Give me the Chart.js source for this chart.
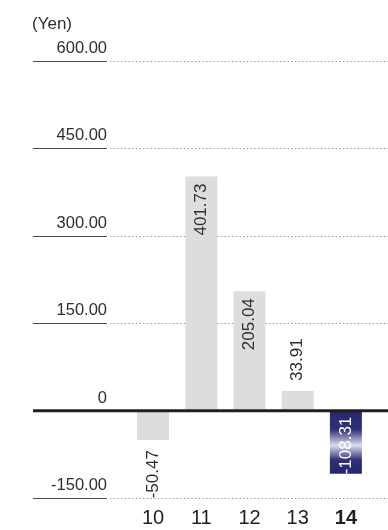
<!DOCTYPE html>
<html><head><meta charset="utf-8">
<script src="https://cdn.jsdelivr.net/npm/chart.js@4.4.1/dist/chart.umd.min.js"></script>
<style>html,body{margin:0;padding:0;background:#fff;overflow:hidden}canvas{display:block}</style>
</head><body><canvas id="c" width="388" height="530" style="width:388px;height:530px"></canvas>
<script>
const categories = ['10', '11', '12', '13', '14'];
const values = [-50.47, 401.73, 205.04, 33.91, -108.31];
const yTicks = [-150, 0, 150, 300, 450, 600];
const unitLabel = '(Yen)';
const highlightIndex = 4;

const FONT = '"Liberation Sans", Arial, Helvetica, sans-serif';

function barColor(ctx) {
  const chart = ctx.chart;
  if (ctx.dataIndex !== highlightIndex) return '#dcdddd';
  const ys = chart.scales.y;
  if (!ys || !chart.chartArea) return '#2a2a70';
  const y0 = ys.getPixelForValue(0), y1 = ys.getPixelForValue(values[ctx.dataIndex]);
  const g = chart.ctx.createLinearGradient(0, y0, 0, y1);
  g.addColorStop(0, '#28286c');
  g.addColorStop(0.3, '#303078');
  g.addColorStop(0.55, '#dcdcec');
  g.addColorStop(0.78, '#303078');
  g.addColorStop(1, '#26266a');
  return g;
}

const decor = {
  id: 'decor',
  beforeDatasetsDraw(chart) {
    const ctx = chart.ctx, ys = chart.scales.y;
    ctx.save();
    for (const v of yTicks) {
      if (v === 0) continue;
      const py = Math.round(ys.getPixelForValue(v)) + 0.5;
      ctx.setLineDash([]);
      ctx.strokeStyle = '#4a4a4a';
      ctx.lineWidth = 1;
      ctx.beginPath(); ctx.moveTo(33, py); ctx.lineTo(107, py); ctx.stroke();
      ctx.setLineDash([1.2, 2.5]);
      ctx.strokeStyle = '#8a8a8a';
      ctx.beginPath(); ctx.moveTo(110, py); ctx.lineTo(chart.width, py); ctx.stroke();
    }
    ctx.restore();
  },
  afterDatasetsDraw(chart) {
    const ctx = chart.ctx, ys = chart.scales.y;
    ctx.save();
    const pz = ys.getPixelForValue(0);
    ctx.strokeStyle = '#231f20';
    ctx.lineWidth = 3;
    ctx.beginPath(); ctx.moveTo(33, pz); ctx.lineTo(chart.width, pz); ctx.stroke();

    const meta = chart.getDatasetMeta(0);
    ctx.font = '17px ' + FONT;
    ctx.textBaseline = 'middle';
    meta.data.forEach((el, i) => {
      const v = values[i];
      const top = Math.min(el.y, el.base), bottom = Math.max(el.y, el.base);
      const len = bottom - top;
      let anchor, align;
      if (len > 60) {
        anchor = top + (v >= 0 ? 7 : 6); align = 'right';
      } else if (v >= 0) {
        anchor = top - 10; align = 'left';
      } else {
        anchor = bottom + 10; align = 'right';
      }
      ctx.save();
      ctx.translate(el.x, anchor);
      ctx.rotate(-Math.PI / 2);
      ctx.textAlign = align;
      ctx.fillStyle = i === highlightIndex ? '#ffffff' : '#2e2e2e';
      ctx.fillText(v.toFixed(2), 0, 0);
      ctx.restore();
    });

    ctx.font = '17px ' + FONT;
    ctx.fillStyle = '#2e2e2e';
    ctx.textAlign = 'left';
    ctx.textBaseline = 'alphabetic';
    ctx.fillText(unitLabel, 32, 29);
    ctx.restore();
  }
};

new Chart(document.getElementById('c'), {
  type: 'bar',
  data: {
    labels: categories,
    datasets: [{ data: values, backgroundColor: barColor, borderWidth: 0, barPercentage: 0.664, categoryPercentage: 1 }]
  },
  options: {
    responsive: false,
    animation: false,
    devicePixelRatio: 1,
    layout: { padding: { top: 61, right: 18, left: 0, bottom: 0 } },
    plugins: { legend: { display: false }, tooltip: { enabled: false }, title: { display: false } },
    scales: {
      x: {
        grid: { display: false, drawTicks: false },
        border: { display: false },
        afterFit: (s) => { s.height = 30; },
        ticks: {
          color: '#231f20',
          padding: 9,
          font: (c) => ({ family: FONT, size: 20, lineHeight: 1.1, weight: c.index === highlightIndex ? 'bold' : 'normal' })
        }
      },
      y: {
        min: -150, max: 600,
        grid: { display: false, drawTicks: false },
        border: { display: false },
        afterBuildTicks: (s) => { s.ticks = yTicks.map(v => ({ value: v })); },
        afterFit: (s) => { s.width = 129; },
        ticks: {
          color: '#2e2e2e',
          padding: 22,
          labelOffset: -12.5,
          font: { family: FONT, size: 16.5 },
          callback: (v) => v === 0 ? '0' : Number(v).toFixed(2)
        }
      }
    }
  },
  plugins: [decor]
});
</script></body></html>
